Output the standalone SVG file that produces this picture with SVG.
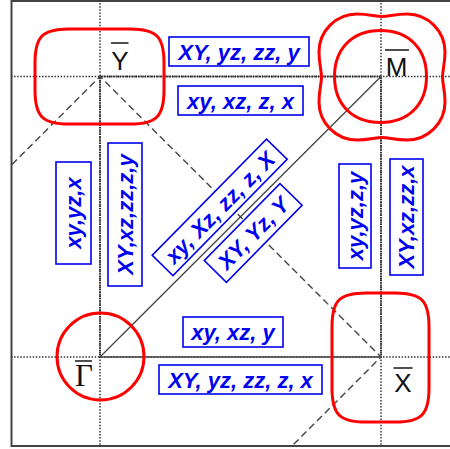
<svg xmlns="http://www.w3.org/2000/svg" width="450" height="449" viewBox="0 0 450 449">
<style>
.frame{fill:none;stroke:#444;stroke-width:2}
.dot{fill:none;stroke:#333;stroke-width:1.5;stroke-dasharray:1.5 1.6}
.edge{fill:none;stroke:#222;stroke-width:1.8;stroke-dasharray:1 0.8}
.solid{fill:none;stroke:#444;stroke-width:1.3}
.dash{fill:none;stroke:#444;stroke-width:1.4;stroke-dasharray:7 4}
.fs{fill:none;stroke:#f00;stroke-width:3}
.box{fill:#fff;stroke:#0000ee;stroke-width:1.6}
.lbl{font-family:"Liberation Sans",Arial,sans-serif;font-weight:bold;font-style:italic;font-size:22px;fill:#0000f0;text-anchor:middle}
.pt{font-family:"Liberation Sans",Arial,sans-serif;font-size:26px;fill:#111;text-anchor:middle}
.ptg{font-family:"Liberation Serif","Times New Roman",serif;font-size:31px;fill:#111;text-anchor:middle}
.bar{stroke:#222;stroke-width:1.6}
</style>
<rect width="450" height="449" fill="#fff"/>
<g id="connectors">
<path class="frame" d="M450,1 H11.5 V446 H450"/>
<path class="dot" d="M100,0 V446 M381,0 V446 M11,76.5 H450 M11,357 H450"/>
<path class="edge" d="M100,76.5 H381 M100,76.5 V357 M381,76.5 V357"/>
<path class="solid" d="M100,357 H381 M100,357 L381,76.5"/>
<path class="dash" d="M12,164.5 L100,76.5 L381,357 L292,446"/>
</g>
<g id="Ybar">
<path class="fs" d="M69,29 H130 C156.5,29 164,36.5 164,63 V90 C164,116.5 156.5,124 130,124 H69 C42.5,124 35,116.5 35,90 V63 C35,36.5 42.5,29 69,29 Z"/>
<text class="pt" x="120" y="69.5">Y</text>
<line class="bar" x1="111" y1="43" x2="128.5" y2="43"/>
</g>
<g id="Mbar">
<path class="fs" transform="translate(382,77)" d="M0,-60.5 C7,-60.5 13,-63 25,-63 C46,-63 63,-46 63,-25 C63,-13 60.5,-7 60.5,0 C60.5,7 63,13 63,25 C63,46 46,63 25,63 C13,63 7,60.5 0,60.5 C-7,60.5 -13,63 -25,63 C-46,63 -63,46 -63,25 C-63,13 -60.5,7 -60.5,0 C-60.5,-7 -63,-13 -63,-25 C-63,-46 -46,-63 -25,-63 C-13,-63 -7,-60.5 0,-60.5 Z"/>
<path class="fs" transform="translate(380.5,76.5)" d="M0,-46 C28,-46 46,-28 46,0 C46,28 28,46 0,46 C-28,46 -46,28 -46,0 C-46,-28 -28,-46 0,-46 Z"/>
<text class="pt" x="396.5" y="75.5">M</text>
<line class="bar" x1="385" y1="50" x2="409" y2="50"/>
</g>
<g id="Gammabar">
<circle class="fs" cx="100.5" cy="356.5" r="43.5"/>
<text class="ptg" x="84" y="386">Γ</text>
<line class="bar" x1="75" y1="361" x2="92" y2="361"/>
</g>
<g id="Xbar">
<path class="fs" d="M366,293 H395 C421.5,293 429,300.5 429,327 V388 C429,414.5 421.5,422 395,422 H366 C339.5,422 332,414.5 332,388 V327 C332,300.5 339.5,293 366,293 Z"/>
<text class="pt" x="403" y="392">X</text>
<line class="bar" x1="393.5" y1="368" x2="412.5" y2="368"/>
</g>
<g id="label-top1" transform="translate(239,51.5)">
<rect class="box" x="-70" y="-14.5" width="140" height="29"/>
<text class="lbl" y="8">XY, yz, zz, y</text>
</g>
<g id="label-top2" transform="translate(240.5,100.5)">
<rect class="box" x="-62.5" y="-14.5" width="125" height="29"/>
<text class="lbl" y="8">xy, xz, z, x</text>
</g>
<g id="label-bot1" transform="translate(233,332)">
<rect class="box" x="-50" y="-15" width="100" height="30"/>
<text class="lbl" y="8">xy, xz, y</text>
</g>
<g id="label-bot2" transform="translate(240.5,379.5)">
<rect class="box" x="-81.5" y="-14.5" width="163" height="29"/>
<text class="lbl" y="8">XY, yz, zz, z, x</text>
</g>
<g id="label-left1" transform="translate(73.5,213) rotate(-90)">
<rect class="box" x="-51" y="-17.5" width="102" height="35"/>
<text class="lbl" y="7.5">xy,yz,x</text>
</g>
<g id="label-left2" transform="translate(125,214.5) rotate(-90)">
<rect class="box" x="-71.5" y="-17" width="143" height="34"/>
<text class="lbl" y="7.5">XY,xz,zz,z,y</text>
</g>
<g id="label-right1" transform="translate(355,216) rotate(-90)">
<rect class="box" x="-52" y="-16" width="104" height="32"/>
<text class="lbl" y="7.5">xy,yz,z,y</text>
</g>
<g id="label-right2" transform="translate(406.5,217) rotate(-90)">
<rect class="box" x="-58" y="-16.5" width="116" height="33"/>
<text class="lbl" y="7.5">XY,xz,zz,x</text>
</g>
<g id="label-diag1" transform="translate(219.7,207.3) rotate(-45.5)">
<rect class="box" x="-81.5" y="-14.5" width="163" height="29"/>
<text class="lbl" y="8">xy, Xz, zz, z, X</text>
</g>
<g id="label-diag2" transform="translate(253.2,232.9) rotate(-45.5)">
<rect class="box" x="-54" y="-15.5" width="108" height="31"/>
<text class="lbl" y="8">XY, Yz, Y</text>
</g>
</svg>
